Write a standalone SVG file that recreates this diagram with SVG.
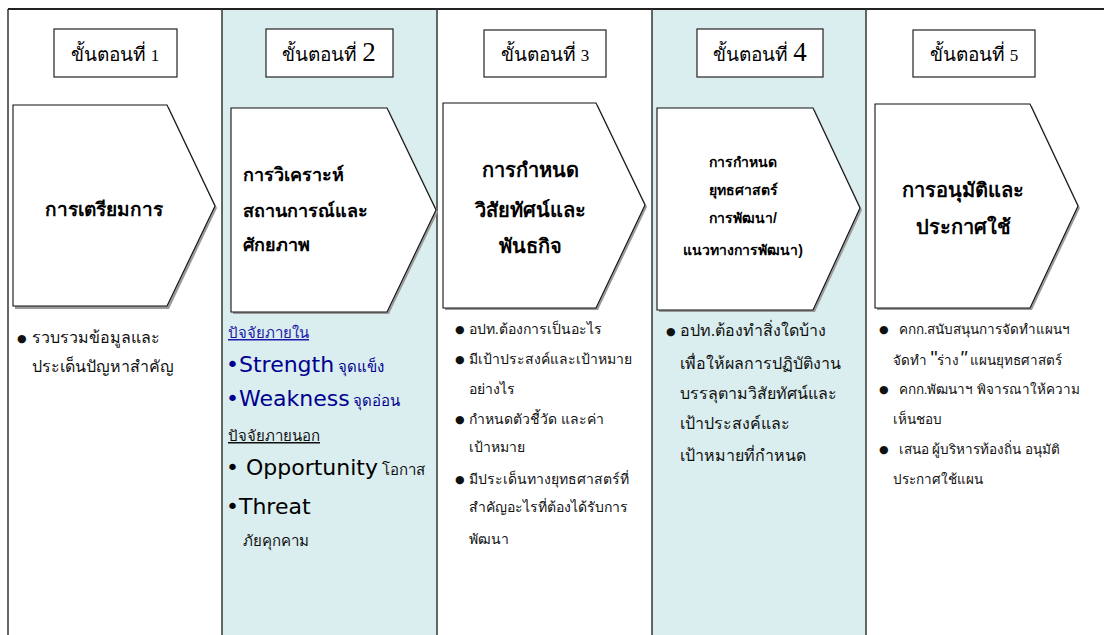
<svg xmlns="http://www.w3.org/2000/svg" width="1104" height="635" viewBox="0 0 1104 635">
<defs>
<style>
.bg{fill:#ffffff}
.shade{fill:#daedef}
.div{stroke:#333;stroke-width:1.5;fill:none}
.hbox{fill:#fff;stroke:#222;stroke-width:1.2}
.htxt{font-family:"Liberation Serif",serif;font-size:19px;fill:#000}
.pent{fill:#fff;stroke:#111;stroke-width:1.1}
.pshadow{fill:#9a9a9a}
.ptxt{font-family:"Liberation Sans",sans-serif;font-weight:bold;fill:#000}
.body{font-family:"Liberation Serif",serif;fill:#111}
.bl{font-family:"DejaVu Sans",sans-serif;font-size:11px}
.sw{font-family:"DejaVu Sans","Liberation Sans",sans-serif;font-size:22px}
</style>
</defs>
<rect class="bg" x="0" y="0" width="1104" height="635"/>
<rect class="shade" x="222" y="9" width="215" height="626"/>
<rect class="shade" x="652" y="9" width="214" height="626"/>
<g id="frame">
<line x1="8" y1="9" x2="1104" y2="9" stroke="#222" stroke-width="2"/>
<line class="div" x1="8" y1="9" x2="8" y2="635"/>
<line class="div" x1="222" y1="9" x2="222" y2="635"/>
<line class="div" x1="437" y1="9" x2="437" y2="635"/>
<line class="div" x1="652" y1="9" x2="652" y2="635"/>
<line class="div" x1="866" y1="9" x2="866" y2="635"/>
</g>
<g id="connectors"/>

<g id="step1">
<rect class="hbox" x="54" y="29" width="123" height="48"/>
<text class="htxt" x="115" y="61" text-anchor="middle">ขั้นตอนที่ <tspan font-size="17">1</tspan></text>
<polygon class="pshadow" points="15,107 169,107 217,208 169,309 15,309"/>
<polygon class="pent" points="13,105 167,105 215,206 167,306 13,306"/>
<text class="ptxt" x="104" y="216" font-size="19" text-anchor="middle">การเตรียมการ</text>
<text class="body" font-size="16"><tspan class="bl" x="17" y="342">●</tspan><tspan x="32" y="343">รวบรวมข้อมูลและ</tspan><tspan x="32" y="372">ประเด็นปัญหาสำคัญ</tspan></text>
</g>

<g id="step2">
<rect class="hbox" x="266" y="29" width="127" height="48"/>
<text class="htxt" x="329" y="61" text-anchor="middle">ขั้นตอนที่ <tspan font-size="27">2</tspan></text>
<polygon class="pshadow" points="233,110 389,110 438,212 389,314 233,314"/>
<polygon class="pent" points="231,108 387,108 436,210 387,312 231,312"/>
<text class="ptxt" font-size="18"><tspan x="243" y="181">การวิเคราะห์</tspan><tspan x="243" y="217">สถานการณ์และ</tspan><tspan x="243" y="251">ศักยภาพ</tspan></text>
<text class="body" x="228" y="338" font-size="15" text-decoration="underline" style="fill:#1a1aa8">ปัจจัยภายใน</text>
<text x="226" y="372" fill="#000090"><tspan class="sw">•Strength</tspan><tspan class="body" font-size="15" style="fill:#000090"> จุดแข็ง</tspan></text>
<text x="226" y="406" fill="#000090"><tspan class="sw">•Weakness</tspan><tspan class="body" font-size="15" style="fill:#000090"> จุดอ่อน</tspan></text>
<text class="body" x="228" y="441" font-size="15" text-decoration="underline">ปัจจัยภายนอก</text>
<text x="226" y="475" fill="#000"><tspan class="sw">•  Opportunity</tspan><tspan class="body" font-size="15"> โอกาส</tspan></text>
<text x="226" y="514" fill="#000"><tspan class="sw">•Threat</tspan></text>
<text class="body" x="243" y="546" font-size="15">ภัยคุกคาม</text>
</g>

<g id="step3">
<rect class="hbox" x="484" y="30" width="122" height="47"/>
<text class="htxt" x="545" y="61" text-anchor="middle">ขั้นตอนที่ <tspan font-size="17">3</tspan></text>
<polygon class="pshadow" points="445,105 598,105 647,207 598,310 445,310"/>
<polygon class="pent" points="443,103 596,103 645,205 596,308 443,308"/>
<text class="ptxt" font-size="20" text-anchor="middle"><tspan x="530" y="177">การกำหนด</tspan><tspan x="530" y="217">วิสัยทัศน์และ</tspan><tspan x="530" y="253">พันธกิจ</tspan></text>
<text class="body" font-size="14"><tspan class="bl" x="455" y="333">●</tspan><tspan x="469" y="334">อปท.ต้องการเป็นอะไร</tspan><tspan class="bl" x="455" y="363">●</tspan><tspan x="469" y="364">มีเป้าประสงค์และเป้าหมาย</tspan><tspan x="469" y="394">อย่างไร</tspan><tspan class="bl" x="455" y="423">●</tspan><tspan x="469" y="424">กำหนดตัวชี้วัด และค่า</tspan><tspan x="469" y="452">เป้าหมาย</tspan><tspan class="bl" x="455" y="483">●</tspan><tspan x="469" y="484">มีประเด็นทางยุทธศาสตร์ที่</tspan><tspan x="469" y="512">สำคัญอะไรที่ต้องได้รับการ</tspan><tspan x="469" y="544">พัฒนา</tspan></text>
</g>

<g id="step4">
<rect class="hbox" x="697" y="29" width="126" height="48"/>
<text class="htxt" x="760" y="61" text-anchor="middle">ขั้นตอนที่ <tspan font-size="27">4</tspan></text>
<polygon class="pshadow" points="659,110 815,110 862,210 815,312 659,312"/>
<polygon class="pent" points="657,108 813,108 860,208 813,310 657,310"/>
<text class="ptxt" font-size="14" text-anchor="middle"><tspan x="743" y="167">การกำหนด</tspan><tspan x="743" y="195">ยุทธศาสตร์</tspan><tspan x="743" y="223">การพัฒนา/</tspan><tspan x="743" y="255">แนวทางการพัฒนา)</tspan></text>
<text class="body" font-size="16"><tspan class="bl" x="666" y="335">●</tspan><tspan x="680" y="336">อปท.ต้องทำสิ่งใดบ้าง</tspan><tspan x="680" y="369">เพื่อให้ผลการปฏิบัติงาน</tspan><tspan x="680" y="399">บรรลุตามวิสัยทัศน์และ</tspan><tspan x="680" y="429">เป้าประสงค์และ</tspan><tspan x="680" y="461">เป้าหมายที่กำหนด</tspan></text>
</g>

<g id="step5">
<rect class="hbox" x="913" y="30" width="122" height="47"/>
<text class="htxt" x="974" y="61" text-anchor="middle">ขั้นตอนที่ <tspan font-size="17">5</tspan></text>
<polygon class="pshadow" points="877,106 1032,106 1080,208 1032,310 877,310"/>
<polygon class="pent" points="875,104 1030,104 1078,206 1030,308 875,308"/>
<text class="ptxt" font-size="20" text-anchor="middle"><tspan x="963" y="197">การอนุมัติและ</tspan><tspan x="963" y="234">ประกาศใช้</tspan></text>
<text class="body" font-size="13.5"><tspan class="bl" x="879" y="333">●</tspan><tspan x="899" y="334">คกก.สนับสนุนการจัดทำแผนฯ</tspan><tspan x="893" y="365">จัดทำ <tspan font-size="20" font-family="Liberation Sans,sans-serif">"</tspan>ร่าง<tspan font-size="20" font-family="Liberation Sans,sans-serif" font-style="italic">"</tspan> แผนยุทธศาสตร์</tspan><tspan class="bl" x="879" y="393">●</tspan><tspan x="899" y="394">คกก.พัฒนาฯ  พิจารณาให้ความ</tspan><tspan x="893" y="424">เห็นชอบ</tspan><tspan class="bl" x="879" y="453">●</tspan><tspan x="899" y="454">เสนอ  ผู้บริหารท้องถิ่น  อนุมัติ</tspan><tspan x="893" y="484">ประกาศใช้แผน</tspan></text>
</g>
</svg>
